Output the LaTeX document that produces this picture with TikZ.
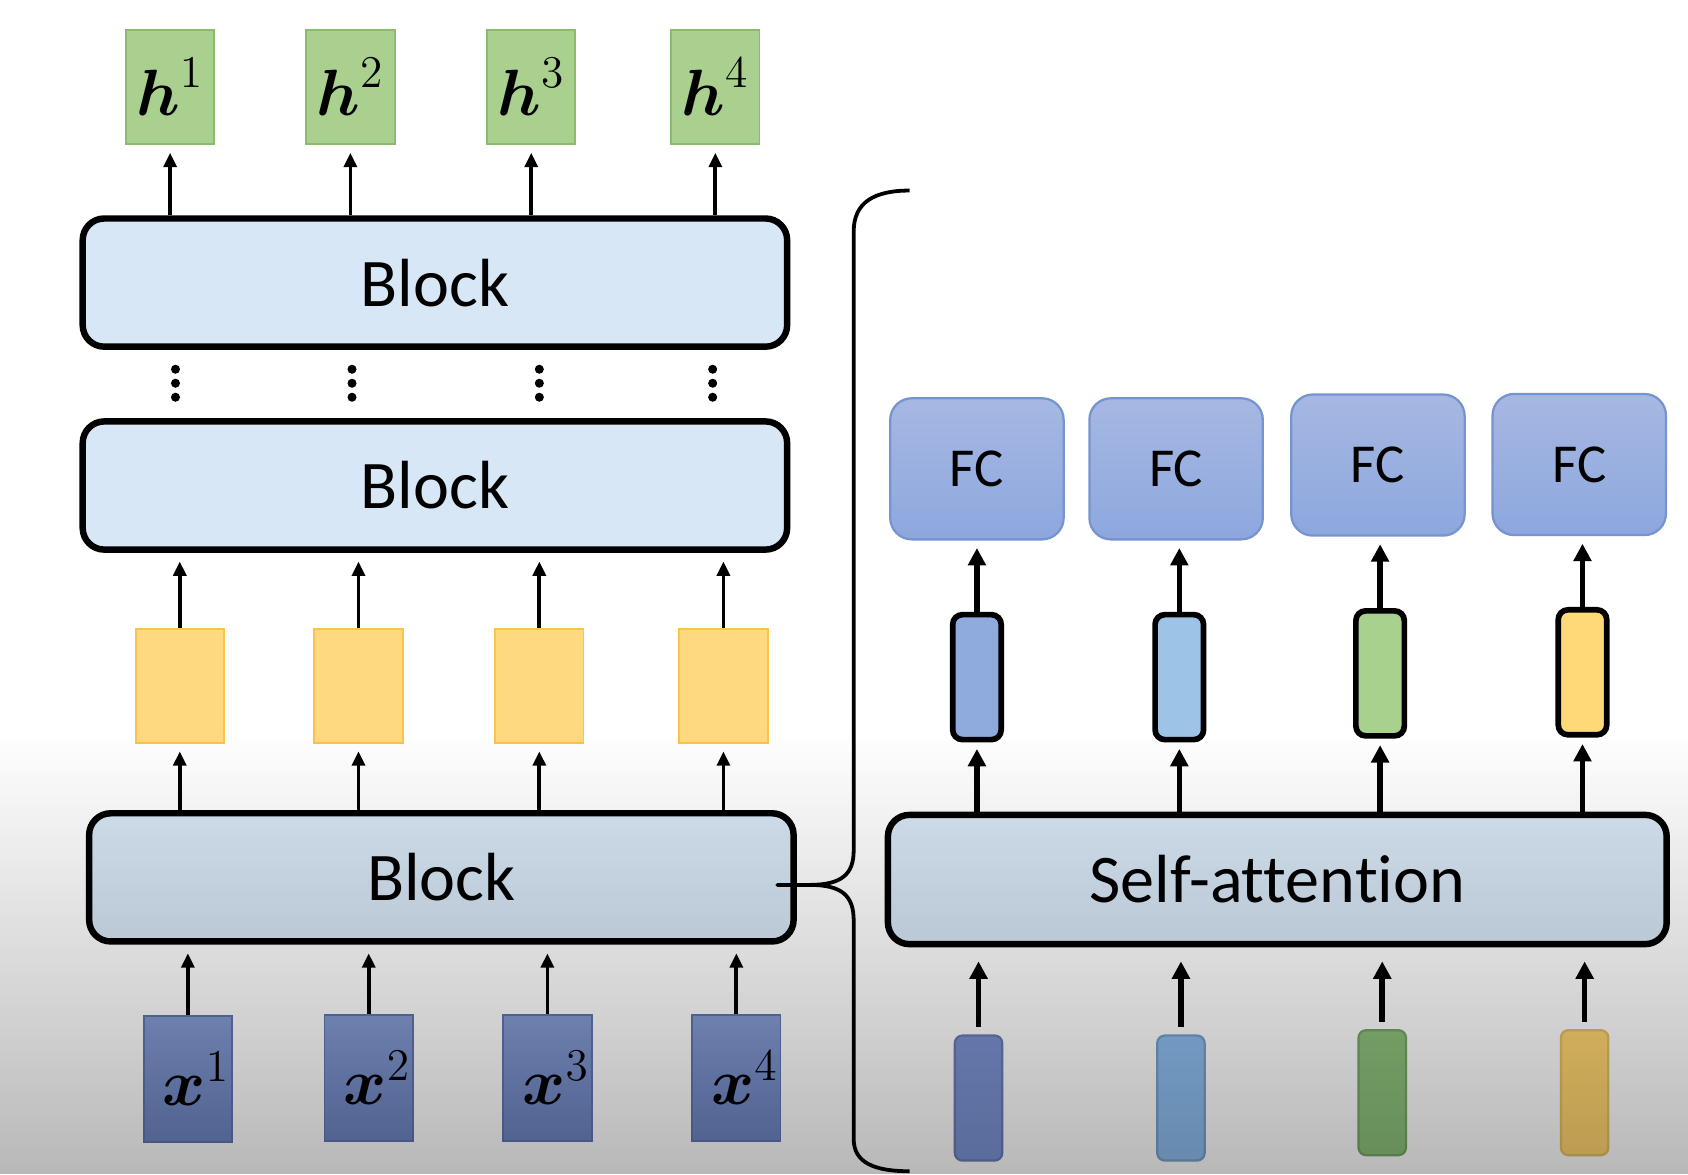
\documentclass[tikz,border=0pt]{standalone}
\usepackage{fontspec}
\setmainfont{Carlito}[Ligatures=NoCommon]
\usepackage{amsmath}
\usetikzlibrary{arrows.meta,fadings}

\definecolor{hgreen}{RGB}{169,208,142}
\definecolor{hgreenline}{RGB}{140,186,110}
\definecolor{ygold}{RGB}{255,217,128}
\definecolor{ygoldline}{RGB}{250,196,70}
\definecolor{xtop}{RGB}{134,156,212}
\definecolor{xbot}{RGB}{110,134,196}
\definecolor{xline}{RGB}{95,118,178}
\definecolor{blockfill}{RGB}{216,231,246}
\definecolor{fctop}{RGB}{166,184,226}
\definecolor{fcbot}{RGB}{141,167,222}
\definecolor{fcline}{RGB}{118,148,208}
\definecolor{vblue}{RGB}{143,170,220}
\definecolor{vsky}{RGB}{157,195,230}
\definecolor{vgreen}{RGB}{169,209,142}
\definecolor{vgold}{RGB}{255,217,120}
\definecolor{iblue}{RGB}{124,148,212}
\definecolor{isky}{RGB}{142,190,240}
\definecolor{igreen}{RGB}{142,194,123}
\definecolor{igold}{RGB}{255,214,112}

\tikzfading[name=floorshade, top color=transparent!100, bottom color=transparent!0]

\begin{document}
\begin{tikzpicture}[x=0.01cm, y=-0.01cm,
  blockbox/.style={draw=black, line width=1.7pt, rounded corners=0.2cm,
    fill=blockfill, minimum width=6.54cm, minimum height=1.19cm,
    inner sep=0pt, font=\fontsize{18}{20}\selectfont},
  tokbox/.style={minimum width=0.82cm, minimum height=1.06cm, inner sep=0pt,
    line width=0.5pt},
  hbox/.style={tokbox, fill=hgreen, draw=hgreenline,
    font=\fontsize{17}{20}\selectfont},
  ybox/.style={tokbox, fill=ygold, draw=ygoldline},
  xbox/.style={tokbox, minimum height=1.17cm, top color=xtop,
    bottom color=xbot, draw=xline, font=\fontsize{17}{20}\selectfont},
  fcbox/.style={minimum width=1.61cm, minimum height=1.31cm, inner sep=0pt,
    rounded corners=0.2cm, top color=fctop, bottom color=fcbot,
    draw=fcline, line width=0.6pt, font=\fontsize{14.5}{16}\selectfont},
  vecbox/.style={minimum width=0.45cm, minimum height=1.16cm, inner sep=0pt,
    rounded corners=0.09cm, draw=black, line width=1.5pt},
  invec/.style={minimum width=0.44cm, minimum height=1.16cm, inner sep=0pt,
    rounded corners=0.07cm, line width=0.6pt},
  thinarrow/.style={-{Triangle[width=3.4pt,length=3.8pt]}, line width=1pt},
  boldarrow/.style={-{Triangle[width=4.6pt,length=4.6pt]}, line width=1.5pt}
]
\useasboundingbox (0,0) rectangle (1568,1091);
\fill[white] (0,0) rectangle (1568,1091);

% ---------------- encoder stack ----------------
\node[hbox] (h1) at (158,81)   {$\boldsymbol{h}^{1}$};
\node[hbox] (h2) at (325.5,81) {$\boldsymbol{h}^{2}$};
\node[hbox] (h3) at (493.5,81) {$\boldsymbol{h}^{3}$};
\node[hbox] (h4) at (664.5,81) {$\boldsymbol{h}^{4}$};

\node[blockbox] (topblk) at (404,262.5) {Block};
\node[blockbox] (midblk) at (404,451)   {Block};
\node[blockbox] (botblk) at (410,815)   {Block};

\node[ybox] (y1) at (167,637) {};
\node[ybox] (y2) at (333,637) {};
\node[ybox] (y3) at (501,637) {};
\node[ybox] (y4) at (672,637) {};

\node[xbox] (x1) at (174.5,1002) {\hspace*{0.16cm}$\boldsymbol{x}^{1}$};
\node[xbox] (x2) at (342.5,1001) {\hspace*{0.16cm}$\boldsymbol{x}^{2}$};
\node[xbox] (x3) at (508.5,1001) {\hspace*{0.16cm}$\boldsymbol{x}^{3}$};
\node[xbox] (x4) at (684,1001)   {\hspace*{0.16cm}$\boldsymbol{x}^{4}$};

\foreach \i in {1,...,4} {
  \draw[thinarrow, shorten >=0.07cm] (h\i.south |- topblk.north) -- (h\i.south);
  \draw[thinarrow, shorten >=0.08cm] (y\i.north) -- (y\i.north |- midblk.south);
  \draw[thinarrow, shorten >=0.07cm] (y\i.south |- botblk.north) -- (y\i.south);
  \draw[thinarrow, shorten >=0.08cm] (x\i.north) -- (x\i.north |- botblk.south);
}

% vertical ellipses between the stacked blocks
\foreach \cx in {163,327,501,662} {
  \foreach \cy in {343,356,369} {
    \fill (\cx,\cy) circle[radius=0.042cm];
  }
}

% ---------------- inside one block ----------------
\node[fcbox] (fc1) at (907.5,435.5) {FC};
\node[fcbox] (fc2) at (1092.5,435.5) {FC};
\node[fcbox] (fc3) at (1280,432) {FC};
\node[fcbox] (fc4) at (1467,431.5) {FC};

\node[vecbox, fill=vblue]  (v1) at (907.5,629) {};
\node[vecbox, fill=vsky]   (v2) at (1095.5,629) {};
\node[vecbox, fill=vgreen] (v3) at (1282,625.5) {};
\node[vecbox, fill=vgold]  (v4) at (1470,624.5) {};

\node[blockbox, minimum width=7.23cm, minimum height=1.2cm] (sa)
  at (1186.5,817) {Self-attention};

\node[invec, fill=iblue,  draw=iblue!85!black]   (u1) at (909,1020) {};
\node[invec, fill=isky,   draw=isky!85!black]    (u2) at (1097,1020) {};
\node[invec, fill=igreen, draw=igreen!85!black]  (u3) at (1284,1015) {};
\node[invec, fill=igold,  draw=igold!90!black]   (u4) at (1472,1015) {};

\foreach \i in {1,...,4} {
  \draw[boldarrow, shorten >=0.07cm] (v\i.north) -- (v\i.north |- fc\i.south);
  \draw[boldarrow, shorten >=0.06cm] (v\i.south |- sa.north) -- (v\i.south);
  \draw[boldarrow, shorten <=0.07cm, shorten >=0.13cm] (u\i.north) -- (u\i.north |- sa.south);
}

% brace linking the lowest block to its expansion
\draw[line width=1pt, line join=round]
  (845,177) .. controls (812,177) and (793,188) .. (793,215)
  -- (793,790) .. controls (793,812) and (782,822) .. (752,822)
  -- (722,822) -- (752,822)
  .. controls (782,822) and (793,832) .. (793,855)
  -- (793,1058) .. controls (793,1080) and (812,1088) .. (845,1088);

% soft shadow over the lower part
\fill[black, opacity=0.28, path fading=floorshade] (0,680) rectangle (1568,1091);
\end{tikzpicture}
\end{document}
